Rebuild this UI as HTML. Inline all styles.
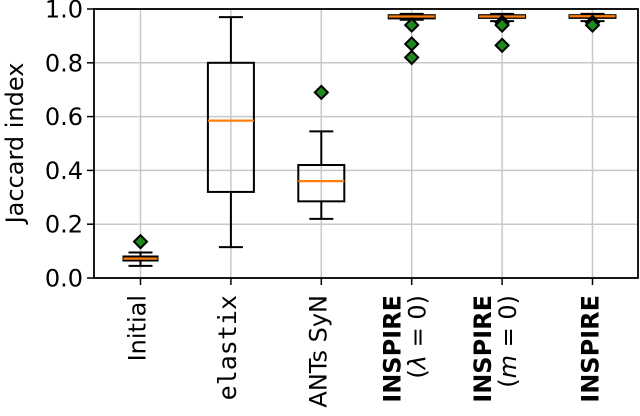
<!DOCTYPE html>
<html><head><meta charset="utf-8"><style>
body{margin:0;background:#fff;}
svg{display:block;font-family:"DejaVu Sans","Liberation Sans",sans-serif;}
</style></head><body>
<svg id="chart" width="640" height="416">
<g id="grid"></g>
<g id="boxes"></g>
<rect x="94" y="9" width="544" height="269" fill="none" stroke="#000" stroke-width="1.8"/>
<g id="yticks"></g>
<g id="xticks"></g>
<text transform="translate(23,143) rotate(-90)" text-anchor="middle" font-size="24">Jaccard index</text>
</svg>
<script>
const categories = ["Initial","elastix","ANTs SyN","INSPIRE (λ=0)","INSPIRE (m=0)","INSPIRE"];
const whiskerLow = [0.045,0.115,0.22,0.96,0.955,0.955];
const q1 = [0.065,0.32,0.285,0.965,0.967,0.967];
const medians = [0.072,0.585,0.36,0.972,0.972,0.973];
const q3 = [0.08,0.80,0.42,0.977,0.977,0.977];
const whiskerHigh = [0.095,0.97,0.545,0.982,0.982,0.982];
const outliers = [[0.135],[],[0.69],[0.94,0.87,0.82],[0.95,0.94,0.865],[0.95,0.94]];
const yTicks = [0,0.2,0.4,0.6,0.8,1.0];
const yTickLabels = ["0.0","0.2","0.4","0.6","0.8","1.0"];

const NS="http://www.w3.org/2000/svg";
const x0=94,x1=638,yTop=9,yBot=278;
const yScale=v=>yBot-(v-0)/(1-0)*(yBot-yTop);
const xScale=i=>140.5+i*90.4;
function mk(tag,attrs,parent){const e=document.createElementNS(NS,tag);for(const k in attrs)e.setAttribute(k,attrs[k]);parent.appendChild(e);return e;}
const grid=document.getElementById('grid'),boxes=document.getElementById('boxes'),yt=document.getElementById('yticks'),xt=document.getElementById('xticks');
yTicks.forEach((t,i)=>{
  const y=yScale(t);
  const g=mk('line',{x1:x0,x2:x1,y1:y,y2:y,stroke:'#c8c8c8','stroke-width':1.5},grid);
  
  
  const tk=mk('line',{x1:x0-7,x2:x0,y1:y,y2:y,stroke:'#000','stroke-width':1.5},yt);
  
  
  const tx=mk('text',{x:x0-11,y:y+8.5,'text-anchor':'end','font-size':24},yt);
  tx.textContent=yTickLabels[i];
  
  
});
categories.forEach((c,i)=>{
  const x=xScale(i);
  const g=mk('line',{x1:x,x2:x,y1:yTop,y2:yBot,stroke:'#c8c8c8','stroke-width':1.5},grid);
  
  
  const tk=mk('line',{x1:x,x2:x,y1:yBot,y2:yBot+7,stroke:'#000','stroke-width':1.5},xt);
  
  
  const hw=i===0?17:23, cw=12;
  const grp=mk('g',{},boxes);
  
  
  const st={stroke:'#000','stroke-width':2,fill:'none'};
  mk('line',Object.assign({x1:x,x2:x,y1:yScale(whiskerLow[i]),y2:yScale(q1[i])},st),grp);
  mk('line',Object.assign({x1:x,x2:x,y1:yScale(q3[i]),y2:yScale(whiskerHigh[i])},st),grp);
  mk('line',Object.assign({x1:x-cw,x2:x+cw,y1:yScale(whiskerLow[i]),y2:yScale(whiskerLow[i])},st),grp);
  mk('line',Object.assign({x1:x-cw,x2:x+cw,y1:yScale(whiskerHigh[i]),y2:yScale(whiskerHigh[i])},st),grp);
  mk('rect',Object.assign({x:x-hw,y:yScale(q3[i]),width:2*hw,height:Math.max(0.5,yScale(q1[i])-yScale(q3[i]))},st),grp);
  mk('line',{x1:x-hw,x2:x+hw,y1:yScale(medians[i]),y2:yScale(medians[i]),stroke:'#ff7f0e','stroke-width':2.2},grp);
  outliers[i].forEach(v=>{
    const y=yScale(v);
    const d=mk('path',{d:`M${x} ${y-6.5}L${x+6.5} ${y}L${x} ${y+6.5}L${x-6.5} ${y}Z`,fill:'#1e8a1e',stroke:'#000','stroke-width':2},grp);
    
    
  });
});
function lbl(x){
  const t=mk('text',{transform:`translate(${x},295) rotate(-90)`,'text-anchor':'end','font-size':24},xt);
  
  
  return t;
}
let t=lbl(xScale(0)+5);t.textContent="Initial";
t=lbl(xScale(1)+5);t.setAttribute('font-family','"DejaVu Sans Mono","Liberation Mono",monospace');t.setAttribute('font-size','25');t.textContent="elastix";
t=lbl(xScale(2)+5);t.textContent="ANTs SyN";
const subs=[["λ"],["m"],null];
subs.forEach((s,j)=>{
  const x=xScale(j+3);
  const a=lbl(s?x-11:x+6);
  a.setAttribute('font-weight','bold');
  a.textContent="INSPIRE";
  if(s){
    const b=lbl(x+14);
    b.innerHTML='(<tspan font-style="italic">'+s[0]+'</tspan> = 0)';
  }
});
</script>
</body></html>
